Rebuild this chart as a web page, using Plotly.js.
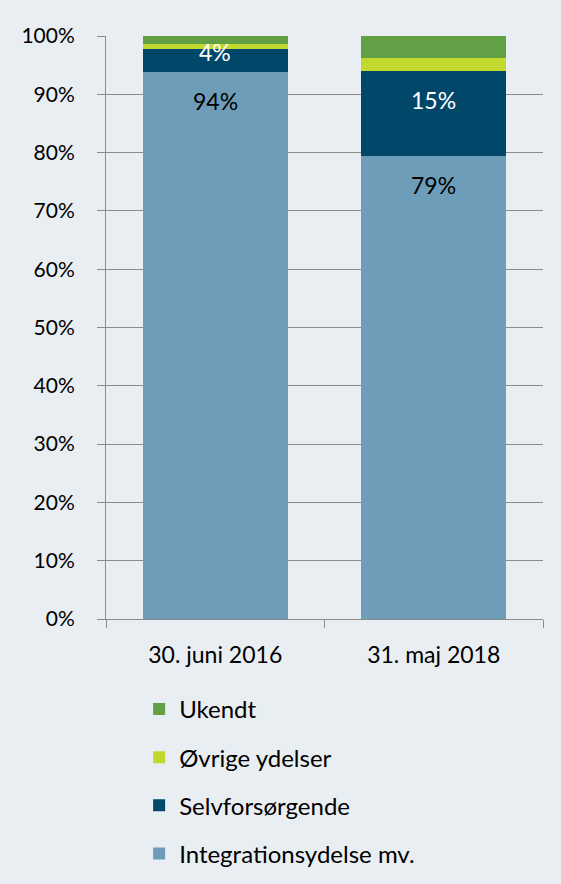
<!DOCTYPE html>
<html>
<head>
<meta charset="utf-8">
<script src="https://cdn.plot.ly/plotly-3.0.1.min.js"></script>
<style>html,body{margin:0;padding:0;background:#e9eef2;}#chart{width:561px;height:884px;}</style>
</head>
<body>
<div id="chart"></div>
<script>
const categories = ["30. juni 2016", "31. maj 2018"];
const integration = [93.8, 79.4];
const selvforsorgende = [4.0, 14.6];
const ovrige = [0.9, 2.3];
const ukendt = [1.3, 3.7];
const yTicks = [0,10,20,30,40,50,60,70,80,90,100];
const yTickText = yTicks.map(v => v + "%");

const FONT = "Lato, 'Open Sans', sans-serif";
const colors = {
  integration: "#6d9db8",
  selv: "#00476a",
  ovrige: "#c3d82f",
  ukendt: "#62a046"
};

function bar(name, y, color, group, rank) {
  return {type: "bar", name: name, x: categories, y: y, legendgroup: group, legendrank: rank,
    marker: {color: color, line: {width: 0}}, hoverinfo: "skip"};
}
const traces = [
  bar("Integrationsydelse mv.", integration, colors.integration, "a", 4),
  bar("Selvforsørgende", selvforsorgende, colors.selv, "b", 3),
  bar("Øvrige ydelser", ovrige, colors.ovrige, "c", 2),
  bar("Ukendt", ukendt, colors.ukendt, "d", 1)
];

// data labels: placed just below the top of their segment
const labelDrop = [[5, 0.5], [5, 5]];
const annotations = [];
categories.forEach((c, i) => {
  const topInt = integration[i];
  const topSelv = integration[i] + selvforsorgende[i];
  annotations.push({x: c, y: topInt - labelDrop[i][0], xref: "x", yref: "y",
    text: Math.round(integration[i]) + "%", showarrow: false,
    font: {family: FONT, size: 23, color: "#000000"}});
  annotations.push({x: c, y: topSelv - labelDrop[i][1], xref: "x", yref: "y",
    text: Math.round(selvforsorgende[i]) + "%", showarrow: false,
    font: {family: FONT, size: 23, color: "#ffffff"}});
});

const layout = {
  width: 561, height: 884,
  paper_bgcolor: "#e9eef2", plot_bgcolor: "#e9eef2",
  margin: {l: 106, r: 18, t: 36, b: 265, autoexpand: false},
  barmode: "stack", bargap: 0.336,
  font: {family: FONT, size: 21, color: "#000000"},
  showlegend: true,
  legend: {orientation: "v", xref: "container", yref: "container",
    x: 0.248, xanchor: "left", y: 0.223, yanchor: "top",
    traceorder: "grouped", tracegroupgap: 14,
    font: {family: FONT, size: 24, color: "#000000"}, bgcolor: "rgba(0,0,0,0)"},
  xaxis: {type: "category", showgrid: false, showline: true, linecolor: "#8c8c8c", linewidth: 1,
    ticks: "outside", tickson: "boundaries", ticklen: 8, tickcolor: "#8c8c8c",
    ticklabelstandoff: 15, automargin: false, tickangle: 0,
    tickfont: {family: FONT, size: 23}, fixedrange: true},
  yaxis: {range: [0, 100], tickvals: yTicks, ticktext: yTickText, showgrid: true,
    gridcolor: "#8c8c8c", gridwidth: 1, showline: true, linecolor: "#8c8c8c", linewidth: 1,
    ticks: "outside", ticklen: 8, tickcolor: "#8c8c8c", zeroline: false, automargin: false,
    ticklabelstandoff: 18, tickfont: {family: FONT, size: 21}, fixedrange: true},
  annotations: annotations
};

Plotly.newPlot("chart", traces, layout, {displayModeBar: false, staticPlot: true});
</script>
</body>
</html>
